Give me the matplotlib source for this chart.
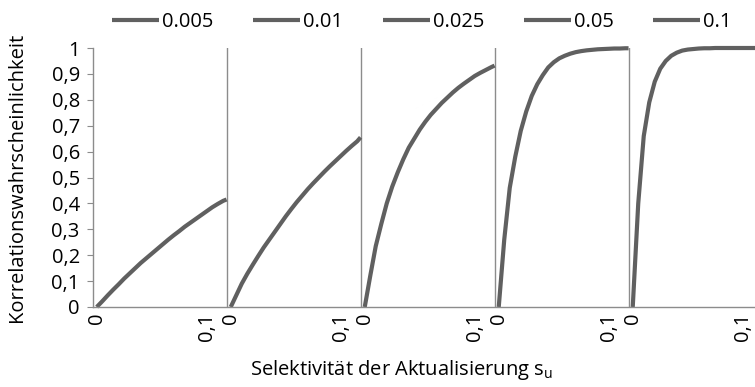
import numpy as np
import matplotlib
matplotlib.use('Agg')
import matplotlib.pyplot as plt

# Selektivität innerhalb eines Abschnitts (gleich für alle Reihen)
t_vals = [0, 0.005, 0.01, 0.015, 0.02, 0.025, 0.03, 0.035, 0.04, 0.045, 0.05,
          0.055, 0.06, 0.065, 0.07, 0.075, 0.08, 0.085, 0.09, 0.095, 0.1,
          0.105, 0.11, 0.115, 0.118]

series_names = ['0.005', '0.01', '0.025', '0.05', '0.1']

p_0005 = [0, 0.022, 0.045, 0.067, 0.088, 0.11, 0.13, 0.15, 0.17, 0.188, 0.206,
          0.224, 0.242, 0.26, 0.277, 0.293, 0.31, 0.325, 0.34, 0.355, 0.37,
          0.385, 0.398, 0.41, 0.415]
p_001 = [0, 0.045, 0.09, 0.128, 0.163, 0.197, 0.23, 0.26, 0.29, 0.32, 0.35,
         0.378, 0.405, 0.43, 0.455, 0.478, 0.5, 0.522, 0.543, 0.563, 0.583,
         0.603, 0.622, 0.64, 0.655]
p_0025 = [0, 0.12, 0.235, 0.32, 0.4, 0.465, 0.52, 0.57, 0.615, 0.65, 0.685,
          0.715, 0.742, 0.765, 0.788, 0.808, 0.828, 0.846, 0.862, 0.877, 0.892,
          0.904, 0.915, 0.926, 0.932]
p_005 = [0, 0.26, 0.46, 0.58, 0.68, 0.755, 0.815, 0.86, 0.895, 0.925, 0.945,
         0.96, 0.97, 0.978, 0.984, 0.988, 0.991, 0.993, 0.995, 0.996, 0.997,
         0.998, 0.998, 0.999, 0.999]
p_01 = [0, 0.4, 0.66, 0.79, 0.87, 0.92, 0.95, 0.97, 0.982, 0.99, 0.994,
        0.996, 0.998, 0.999, 0.999, 1.0, 1.0, 1.0, 1.0, 1.0, 1.0,
        1.0, 1.0, 1.0, 1.0]

x_ticks = [0, 0.1]
x_tick_labels = ['0', '0,1']
y_ticks = [0, 0.1, 0.2, 0.3, 0.4, 0.5, 0.6, 0.7, 0.8, 0.9, 1.0]
y_tick_labels = ['0', '0,1', '0,2', '0,3', '0,4', '0,5', '0,6', '0,7', '0,8', '0,9', '1']


def main():
    plt.rcParams['font.family'] = ['Open Sans', 'DejaVu Sans']
    plt.rcParams['mathtext.fontset'] = 'custom'
    plt.rcParams['mathtext.rm'] = 'Open Sans'
    plt.rcParams['mathtext.it'] = 'Open Sans'

    line_color = '#606060'
    axis_color = '#8c8c8c'
    fs_tick = 14.5
    fs_label = 14.5

    fig = plt.figure(figsize=(7.55, 3.87), dpi=100)
    # Achse reicht über den rechten Bildrand hinaus (wie im Original abgeschnitten)
    ax = fig.add_axes([93 / 755, 80 / 387, 670 / 755, 259 / 387])

    panel_w = 0.1218   # Breite eines Abschnitts
    offset = 0.0034    # Abstand von Abschnittsbeginn bis x=0

    all_series = [p_0005, p_001, p_0025, p_005, p_01]
    ticks = []
    labels = []
    for i, (name, vals) in enumerate(zip(series_names, all_series)):
        x0 = i * panel_w + offset
        xs = np.array(t_vals) + x0
        ax.plot(xs, vals, color=line_color, lw=3.0, label=name,
                solid_capstyle='butt', clip_on=False)
        ticks += [x0 + t for t in x_ticks]
        labels += x_tick_labels
        if i > 0:
            ax.axvline(i * panel_w, color=axis_color, lw=1.0, zorder=0)

    ax.set_xlim(0, 5 * panel_w)
    ax.set_ylim(0, 1)
    ax.set_xticks(ticks)
    ax.set_xticklabels(labels, rotation=90, fontsize=fs_tick)
    ax.set_yticks(y_ticks)
    ax.set_yticklabels(y_tick_labels, fontsize=fs_tick)
    ax.tick_params(axis='x', length=0, pad=4)
    ax.tick_params(axis='y', length=4.5, color=axis_color, pad=5)

    for side in ['top', 'right']:
        ax.spines[side].set_visible(False)
    for side in ['left', 'bottom']:
        ax.spines[side].set_color(axis_color)
        ax.spines[side].set_linewidth(1.0)

    ax.set_ylabel('Korrelationswahrscheinlichkeit', fontsize=fs_label)
    ax.yaxis.set_label_coords(-0.098, 0.5)
    fig.text(401 / 755, 1 - 370 / 387, 'Selektivität der Aktualisierung s$_{\\mathrm{u}}$',
             ha='center', va='center', fontsize=fs_label)

    fig.legend(loc='center', bbox_to_anchor=(422 / 755, 1 - 22 / 387), ncol=5,
               frameon=False, fontsize=fs_tick, handlelength=2.35, handletextpad=0.15,
               columnspacing=1.95, borderpad=0)

    fig.savefig('out.png', dpi=100)


if __name__ == "__main__":
    main()
